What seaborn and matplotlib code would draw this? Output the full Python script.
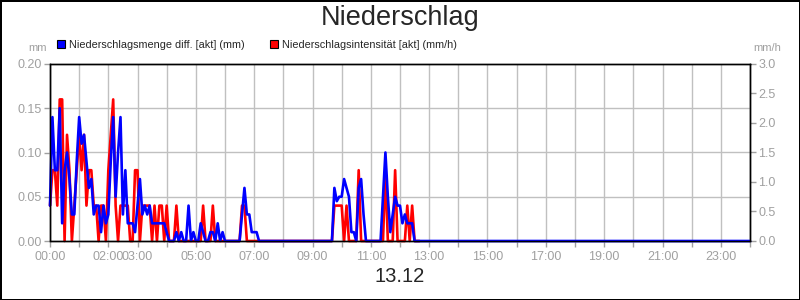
import matplotlib
matplotlib.use("Agg")
import matplotlib.pyplot as plt
import matplotlib.patches as mpatches
from matplotlib.ticker import FuncFormatter, MultipleLocator
import numpy as np
import seaborn as sns

sns.set_style("white")
plt.rcParams['font.family'] = ['Liberation Sans', 'DejaVu Sans']

# Data (5-minute steps starting 00:00)
title = "Niederschlag"
date_label = "13.12"
series_labels = ["Niederschlagsmenge diff. [akt] (mm)", "Niederschlagsintensität [akt] (mm/h)"]
left_unit = "mm"
right_unit = "mm/h"
step_minutes = 5
labeled_hours = [0, 2, 3, 5, 7, 9, 11, 13, 15, 17, 19, 21, 23]

menge_mm = (
    [0.04, 0.14, 0.08, 0.08, 0.15, 0.02, 0.08, 0.10, 0.07, 0.03, 0.03, 0.09]     # 00
    + [0.14, 0.11, 0.12, 0.09, 0.06, 0.07, 0.03, 0.04, 0.04, 0.01, 0.04, 0.02]   # 01
    + [0.03, 0.09, 0.14, 0.05, 0.10, 0.14, 0.03, 0.08, 0.02, 0.02, 0.02, 0.01]   # 02
    + [0.04, 0.07, 0.03, 0.04, 0.03, 0.04, 0.02, 0.02, 0.02, 0.02, 0.02, 0.02]   # 03
    + [0.01, 0.00, 0.00, 0.00, 0.01, 0.00, 0.01, 0.00, 0.00, 0.04, 0.00, 0.01]   # 04
    + [0.00, 0.00, 0.02, 0.01, 0.00, 0.00, 0.01, 0.01, 0.00, 0.02, 0.00, 0.01]   # 05
    + [0.00, 0.00, 0.00, 0.00, 0.00, 0.00, 0.00, 0.03, 0.06, 0.03, 0.03, 0.01]   # 06
    + [0.01, 0.01] + [0.0] * 10                                                  # 07
    + [0.0] * 12                                                                 # 08
    + [0.0] * 9 + [0.06, 0.045, 0.05]                                            # 09
    + [0.05, 0.07, 0.06, 0.05, 0.01, 0.01, 0.00, 0.06, 0.07, 0.03, 0.00, 0.00]   # 10
    + [0.00, 0.00, 0.00, 0.00, 0.00, 0.05, 0.10, 0.05, 0.01, 0.03, 0.05, 0.04]   # 11
    + [0.04, 0.02, 0.03, 0.02, 0.02, 0.02, 0.00, 0.00, 0.00, 0.00, 0.00, 0.00]   # 12
    + [0.0] * 132 + [0.0]                                                        # 13-24
)

intens_mmh = (
    [0.6, 1.2, 1.2, 0.6, 2.4, 2.4, 0.0, 1.8, 1.2, 0.0, 0.6, 1.2]     # 00
    + [1.8, 1.2, 1.8, 0.6, 1.2, 1.2, 0.6, 0.6, 0.0, 0.6, 0.6, 0.0]   # 01
    + [1.2, 1.8, 2.4, 0.6, 0.0, 0.6, 0.6, 0.6, 0.6, 0.0, 0.0, 1.2]   # 02
    + [1.2, 0.0, 0.6, 0.6, 0.6, 0.6, 0.0, 0.6, 0.0, 0.6, 0.6, 0.0]   # 03
    + [0.6, 0.0, 0.0, 0.0, 0.6, 0.0, 0.0, 0.0, 0.0, 0.0, 0.0, 0.0]   # 04
    + [0.0, 0.0, 0.0, 0.6, 0.0, 0.0, 0.0, 0.6, 0.0, 0.0, 0.0, 0.0]   # 05
    + [0.0, 0.0, 0.0, 0.0, 0.0, 0.0, 0.0, 0.6, 0.6, 0.0, 0.0, 0.0]   # 06
    + [0.0] * 12                                                     # 07
    + [0.0] * 12                                                     # 08
    + [0.0] * 9 + [0.6, 0.6, 0.6]                                    # 09
    + [0.6, 0.0, 0.6, 0.0, 0.0, 0.0, 0.0, 1.2, 0.0, 0.0, 0.0, 0.0]   # 10
    + [0.0, 0.0, 0.0, 0.0, 0.0, 0.0, 1.2, 0.0, 0.0, 0.0, 1.2, 0.0]   # 11
    + [0.0, 0.0, 0.0, 0.6, 0.0, 0.6, 0.0, 0.0, 0.0]                  # 12
)

blue = '#0000ff'
red = '#ff0000'
grey_txt = '#a0a0a0'
grid_col = '#c0c0c0'

fig = plt.figure(figsize=(8, 3), dpi=100)
fig.patch.set_edgecolor('black')
fig.patch.set_linewidth(2)

ax = fig.add_axes([50 / 800, 59 / 300, 700 / 800, 177 / 300])
ax2 = ax.twinx()
# blue series on top, grid in the lower axes
ax.set_zorder(2)
ax2.set_zorder(1)
ax.patch.set_visible(False)
ax2.patch.set_visible(True)
ax2.patch.set_facecolor('white')

t_menge = np.arange(len(menge_mm)) * step_minutes / 60
t_int = np.arange(len(intens_mmh)) * step_minutes / 60

sns.lineplot(x=t_int, y=intens_mmh, ax=ax2, color=red, linewidth=1.9, clip_on=False)
sns.lineplot(x=t_menge, y=menge_mm, ax=ax, color=blue, linewidth=1.9, clip_on=False)

ax.set_xlim(0, 24)
ax.set_ylim(0, 0.20)
ax2.set_ylim(0, 3.0)
ax.set_xlabel('')
ax.set_ylabel('')
ax2.set_ylabel('')

ax.xaxis.set_major_locator(MultipleLocator(1))
ax.xaxis.set_major_formatter(FuncFormatter(
    lambda v, p: f"{int(round(v)):02d}:00" if int(round(v)) in labeled_hours else ""))
ax.yaxis.set_major_locator(MultipleLocator(0.05))
ax.yaxis.set_major_formatter(FuncFormatter(lambda v, p: f"{v:.2f}"))
ax2.yaxis.set_major_locator(MultipleLocator(0.5))
ax2.yaxis.set_major_formatter(FuncFormatter(lambda v, p: f"{v:.1f}"))

# grid lines drawn in the lower axes (at the left-axis steps)
ax2.xaxis.set_visible(True)
ax2.tick_params(axis='x', bottom=False, top=False, labelbottom=False, labeltop=False)
ax2.yaxis.remove_overlapping_locs = False
ax2.set_yticks(np.arange(0.75, 3.0, 0.75), minor=True)
ax2.yaxis.grid(True, which='minor', color=grid_col, linewidth=1)
ax2.yaxis.grid(False, which='major')
ax2.xaxis.grid(True, color=grid_col, linewidth=1)
ax2.tick_params(axis='y', which='minor', length=0)

tick_kw = dict(length=4, width=1, color=grey_txt, labelcolor=grey_txt,
               labelsize=9, direction='out')
ax.tick_params(axis='x', bottom=True, pad=3, **tick_kw)
ax.tick_params(axis='y', left=True, pad=2, **tick_kw)
ax2.tick_params(axis='y', right=True, pad=2, **tick_kw)

for a in (ax, ax2):
    for s in a.spines.values():
        s.set_visible(True)
        s.set_color('black')
        s.set_linewidth(1)

fig.text(0.5, 1 - 18 / 300, title, ha='center', va='center', fontsize=19.5)
fig.text(0.5, 1 - 276 / 300, date_label, ha='center', va='center', fontsize=14.5)
fig.text(47 / 800, 1 - 48 / 300, left_unit, ha='right', va='center',
         fontsize=8, color=grey_txt)
fig.text(753 / 800, 1 - 48 / 300, right_unit, ha='left', va='center',
         fontsize=8, color=grey_txt)

handles = [mpatches.Patch(facecolor=blue, edgecolor='black', linewidth=0.8),
           mpatches.Patch(facecolor=red, edgecolor='black', linewidth=0.8)]
fig.legend(handles, series_labels, loc='center left', bbox_to_anchor=(57 / 800, 1 - 45 / 300),
           ncol=2, frameon=False, fontsize=7.8, handlelength=0.75, handleheight=0.75,
           handletextpad=0.4, columnspacing=2.3, borderpad=0, borderaxespad=0)

fig.savefig('out.png', dpi=100)
